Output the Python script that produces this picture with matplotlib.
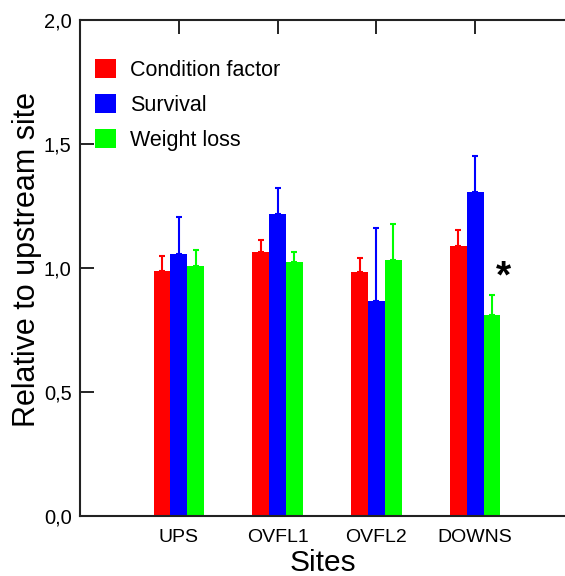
import matplotlib
matplotlib.use('Agg')
import matplotlib.pyplot as plt
import numpy as np

plt.rcParams['font.family'] = ['Liberation Sans', 'DejaVu Sans']

sites = ['UPS', 'OVFL1', 'OVFL2', 'DOWNS']
series = ['Condition factor', 'Survival', 'Weight loss']
colors = ['#ff0000', '#0000ff', '#00ff00']
# bar heights and upper error ends
cond = [0.988, 1.063, 0.983, 1.090]
cond_err = [0.060, 0.050, 0.056, 0.063]
surv = [1.055, 1.219, 0.868, 1.305]
surv_err = [0.151, 0.105, 0.295, 0.145]
wloss = [1.007, 1.024, 1.034, 0.810]
wloss_err = [0.064, 0.042, 0.145, 0.082]
star_site = 'DOWNS'
star_y = 0.96

vals = [cond, surv, wloss]
errs = [cond_err, surv_err, wloss_err]

fig = plt.figure(figsize=(5.65, 5.76), dpi=100)
ax = fig.add_axes([80/565, 60/576, 1 - 80/565, 496/576])

x = np.arange(1, len(sites) + 1)
w = 0.17
for i in range(3):
    xi = x + (i - 1) * w
    ax.bar(xi, vals[i], w, color=colors[i], label=series[i], zorder=2)
    ax.errorbar(xi, vals[i], yerr=[np.zeros(len(sites)), errs[i]], fmt='none',
                ecolor=colors[i], elinewidth=1.5, capsize=2.5, capthick=1.5, zorder=1)

k = sites.index(star_site)
ax.text(x[k] + w + 0.12, star_y, '*', fontsize=28, fontweight='bold',
        ha='center', va='center')

ax.set_xlim(0, 4.91)
ax.set_ylim(0, 2)
ax.set_yticks([0, 0.5, 1.0, 1.5, 2.0])
ax.set_yticklabels(['0,0', '0,5', '1,0', '1,5', '2,0'])
ax.set_xticks(x)
ax.set_xticklabels(sites)
ax.spines['right'].set_visible(False)
for s in ['left', 'top', 'bottom']:
    ax.spines[s].set_linewidth(1.5)
    ax.spines[s].set_color('#222222')
ax.tick_params(axis='y', direction='in', length=10, width=1.2, labelsize=14.5, pad=6)
ax.tick_params(axis='x', bottom=False, top=True, direction='in', length=10,
               width=1.2, labelsize=14, pad=9)

ax.set_xlabel('Sites', fontsize=21.5)
ax.xaxis.set_label_coords(0.5, -0.066)
ax.set_ylabel('Relative to upstream site', fontsize=22)
ax.yaxis.set_label_coords(-0.078, 0.518)

ax.legend(loc='upper left', bbox_to_anchor=(0.03, 0.921), frameon=False,
          fontsize=15.5, handlelength=1.0, handleheight=1.0, handletextpad=0.65,
          labelspacing=0.6, borderpad=0, borderaxespad=0)

fig.savefig('out.png', dpi=100)
